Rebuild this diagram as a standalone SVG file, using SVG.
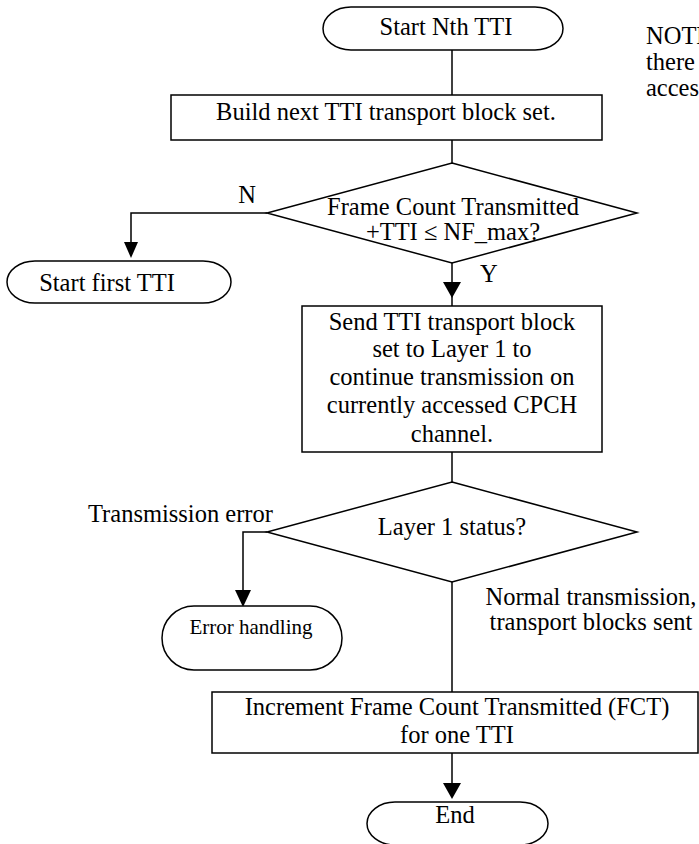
<svg xmlns="http://www.w3.org/2000/svg" width="699" height="844" viewBox="0 0 699 844">
<style>
text{font-family:"Liberation Serif","Times New Roman",serif;font-size:24.5px;fill:#000}
.c{text-anchor:middle}
.s{fill:#fff;stroke:#000;stroke-width:1.5}
.ln{fill:none;stroke:#000;stroke-width:1.5}
.ah{fill:#000;stroke:none}
</style>
<rect width="699" height="844" fill="#fff"/>
<g id="connectors">
<path class="ln" d="M452,50 V95"/>
<path class="ln" d="M452,140 V163"/>
<path class="ln" d="M267,213 H131 V245"/>
<polygon class="ah" points="124,242 138,242 131,258"/>
<path class="ln" d="M452,263 V306"/>
<polygon class="ah" points="443,282 461,282 452,298"/>
<path class="ln" d="M452,452 V482"/>
<path class="ln" d="M267,532 H243 V592"/>
<polygon class="ah" points="235,590 251,590 243,607"/>
<path class="ln" d="M452,582 V692"/>
<path class="ln" d="M452,753 V786"/>
<polygon class="ah" points="443,783 461,783 452,799"/>
</g>
<g id="start-nth">
<rect class="s" x="323" y="7" width="240" height="43" rx="28" ry="21.5"/>
<text class="c" x="446" y="35">Start Nth TTI</text>
</g>
<g id="build">
<rect class="s" x="171" y="95" width="431" height="45"/>
<text class="c" x="386" y="120">Build next TTI transport block set.</text>
</g>
<g id="decision-fct">
<polygon class="s" points="452,163 637,213 452,263 267,213"/>
<text class="c" x="453" y="215">Frame Count Transmitted</text>
<text class="c" x="453" y="240">+TTI ≤ NF_max?</text>
</g>
<g id="label-n"><text class="c" x="247" y="203">N</text></g>
<g id="label-y"><text x="480" y="282">Y</text></g>
<g id="start-first">
<rect class="s" x="7" y="261" width="224" height="42" rx="28" ry="21"/>
<text class="c" x="107" y="291">Start first TTI</text>
</g>
<g id="send">
<rect class="s" x="302" y="306" width="300" height="146"/>
<text class="c" x="452" y="330">Send TTI transport block</text>
<text class="c" x="452" y="357">set to Layer 1 to</text>
<text class="c" x="452" y="385">continue transmission on</text>
<text class="c" x="452" y="413">currently accessed CPCH</text>
<text class="c" x="452" y="442">channel.</text>
</g>
<g id="decision-l1">
<polygon class="s" points="452,482 637,532 452,582 267,532"/>
<text class="c" x="452" y="535">Layer 1 status?</text>
</g>
<g id="label-err"><text x="88" y="522">Transmission error</text></g>
<g id="error-handling">
<rect class="s" x="162" y="606" width="180" height="64" rx="32" ry="32"/>
<text class="c" x="251" y="634" style="font-size:21px">Error handling</text>
</g>
<g id="label-normal">
<text class="c" x="591" y="605">Normal transmission,</text>
<text class="c" x="591" y="630">transport blocks sent</text>
</g>
<g id="increment">
<rect class="s" x="212" y="692" width="486" height="61"/>
<text class="c" x="457" y="715">Increment Frame Count Transmitted (FCT)</text>
<text class="c" x="457" y="743">for one TTI</text>
</g>
<g id="end">
<rect class="s" x="367" y="802" width="181" height="43" rx="28" ry="21.5"/>
<text class="c" x="455" y="823">End</text>
</g>
<g id="note">
<text x="646" y="44">NOTE</text>
<text x="646" y="70">there</text>
<text x="646" y="96">access</text>
</g>
</svg>
